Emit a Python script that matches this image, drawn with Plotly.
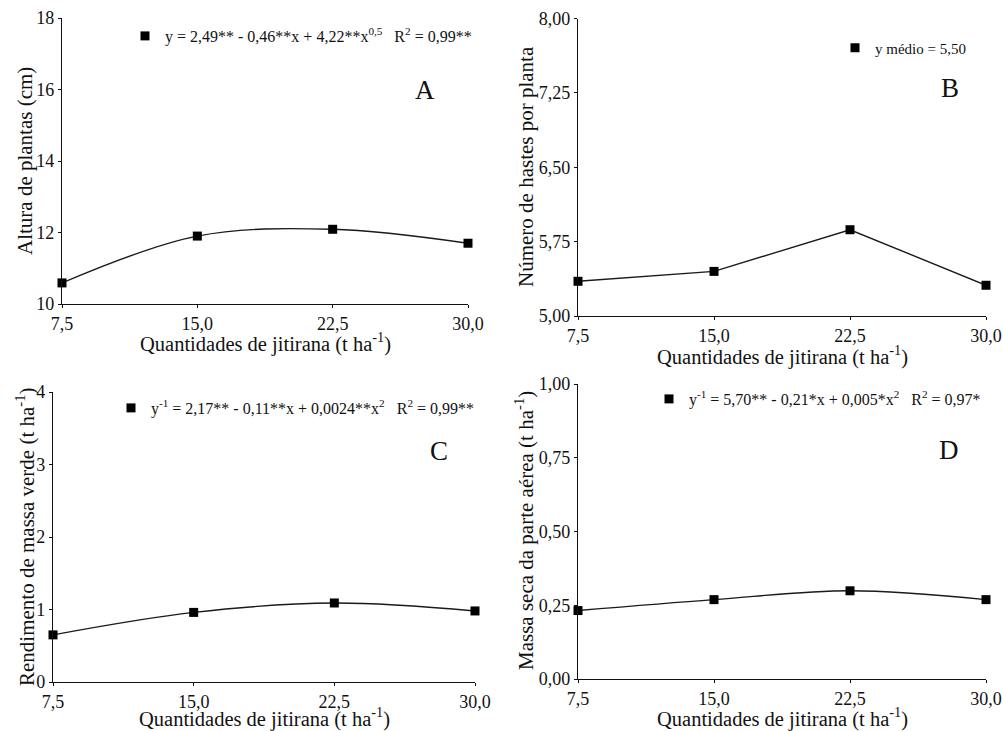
import plotly.graph_objects as go

# ---- data ----
quantidades = [7.5, 15.0, 22.5, 30.0]
x_ticktext = ["7,5", "15,0", "22,5", "30,0"]

altura = [10.59, 11.90, 12.09, 11.70]
hastes = [5.35, 5.45, 5.87, 5.31]
massa_verde = [0.65, 0.96, 1.09, 0.98]
massa_seca = [0.232, 0.269, 0.299, 0.269]

a_ticks = [10, 12, 14, 16, 18]
a_ticktext = ["10", "12", "14", "16", "18"]
b_ticks = [5.0, 5.75, 6.5, 7.25, 8.0]
b_ticktext = ["5,00", "5,75", "6,50", "7,25", "8,00"]
c_ticks = [0, 1, 2, 3, 4]
c_ticktext = ["0", "1", "2", "3", "4"]
d_ticks = [0.0, 0.25, 0.5, 0.75, 1.0]
d_ticktext = ["0,00", "0,25", "0,50", "0,75", "1,00"]

x_title = "Quantidades de jitirana (t ha<sup>-1</sup>)"
leg_a = "y = 2,49** - 0,46**x + 4,22**x<sup>0,5</sup>\u00a0\u00a0\u00a0R<sup>2</sup> = 0,99**"
leg_b = "y médio = 5,50"
leg_c = "y<sup>-1</sup> = 2,17** - 0,11**x + 0,0024**x<sup>2</sup>\u00a0\u00a0\u00a0R<sup>2</sup> = 0,99**"
leg_d = "y<sup>-1</sup> = 5,70** - 0,21*x + 0,005*x<sup>2</sup>\u00a0\u00a0\u00a0R<sup>2</sup> = 0,97*"

FONT = "Liberation Serif"
INK = "#111111"
W, H = 1003, 731

panels = [
    dict(vals=altura, shape="spline", leg=leg_a, lname="legend", xd=(62, 468), yd=(18, 304), yr=[10, 18],
         yt=a_ticks, ytt=a_ticktext, ytitle="Altura de plantas (cm)", letter="A", lpos=(425, 90),
         legpos=(147, 36), legsize=16, xtpos=(265, 342), ytpos=(25, 161)),
    dict(vals=hastes, shape="linear", leg=leg_b, lname="legend2", xd=(578, 986), yd=(18.5, 316), yr=[5, 8],
         yt=b_ticks, ytt=b_ticktext, ytitle="Número de hastes por planta", letter="B", lpos=(950, 88),
         legpos=(857, 48), legsize=15, xtpos=(782, 355), ytpos=(526, 167)),
    dict(vals=massa_verde, shape="spline", leg=leg_c, lname="legend3", xd=(53, 475), yd=(392, 682), yr=[0, 4],
         yt=c_ticks, ytt=c_ticktext, ytitle="Rendimento de massa verde (t ha<sup>-1</sup>)", letter="C",
         lpos=(439, 451), legpos=(133, 408), legsize=16, xtpos=(264, 717), ytpos=(25, 537)),
    dict(vals=massa_seca, shape="spline", leg=leg_d, lname="legend4", xd=(578, 986), yd=(384, 679), yr=[0, 1],
         yt=d_ticks, ytt=d_ticktext, ytitle="Massa seca da parte aérea (t ha<sup>-1</sup>)", letter="D",
         lpos=(949, 450), legpos=(671, 399), legsize=16, xtpos=(782, 717), ytpos=(524, 531)),
]

fig = go.Figure()
layout = dict(
    width=W, height=H,
    margin=dict(l=0, r=0, t=0, b=0, pad=0, autoexpand=False),
    paper_bgcolor="white", plot_bgcolor="white",
    font=dict(family=FONT, color=INK),
    annotations=[],
)


def ann(text, px, py, size, angle=0):
    return dict(text=text, x=px / W, y=1 - py / H, xref="paper", yref="paper", showarrow=False,
                textangle=angle, font=dict(size=size, family=FONT, color=INK),
                xanchor="center", yanchor="middle")


for i, p in enumerate(panels):
    n = "" if i == 0 else str(i + 1)
    xa, ya = "x" + n, "y" + n
    fig.add_trace(go.Scatter(
        x=quantidades, y=p["vals"], mode="lines",
        line=dict(color="#1a1a1a", width=1.4, shape=p["shape"], smoothing=1.0),
        xaxis=xa, yaxis=ya, showlegend=False, cliponaxis=False, hoverinfo="skip"))
    fig.add_trace(go.Scatter(
        x=quantidades, y=p["vals"], mode="markers", name=p["leg"],
        marker=dict(symbol="square", size=9, color="black"),
        xaxis=xa, yaxis=ya, showlegend=True, legend=p["lname"], cliponaxis=False))
    xd, yd = p["xd"], p["yd"]
    layout["xaxis" + n] = dict(
        domain=[xd[0] / W, xd[1] / W], anchor=ya, range=[7.5, 30],
        tickvals=quantidades, ticktext=x_ticktext, ticks="outside", ticklen=3,
        tickcolor=INK, showline=True, linecolor=INK, linewidth=1.3, showgrid=False, zeroline=False,
        automargin=False, tickfont=dict(size=18, family=FONT, color=INK),
    )
    layout["yaxis" + n] = dict(
        domain=[1 - yd[1] / H, 1 - yd[0] / H], anchor=xa, range=p["yr"],
        tickvals=p["yt"], ticktext=p["ytt"], ticks="outside", ticklen=3,
        tickcolor=INK, showline=True, linecolor=INK, linewidth=1.3, showgrid=False, zeroline=False,
        automargin=False, tickfont=dict(size=18, family=FONT, color=INK),
    )
    lp = p["legpos"]
    layout[p["lname"]] = dict(
        x=(lp[0] - 22) / W, y=1 - lp[1] / H, xanchor="left", yanchor="middle",
        bgcolor="rgba(0,0,0,0)", font=dict(size=p["legsize"], family=FONT, color=INK),
        itemwidth=30, tracegroupgap=0,
    )
    layout["annotations"].append(ann(p["letter"], *p["lpos"], 27))
    layout["annotations"].append(ann(x_title, *p["xtpos"], 20.5))
    layout["annotations"].append(ann(p["ytitle"], *p["ytpos"], 21, angle=-90))

fig.update_layout(**layout)
fig.write_html("out.html", config={"displayModeBar": False},
               post_script="document.body.style.margin='0';document.body.style.overflow='hidden';")
